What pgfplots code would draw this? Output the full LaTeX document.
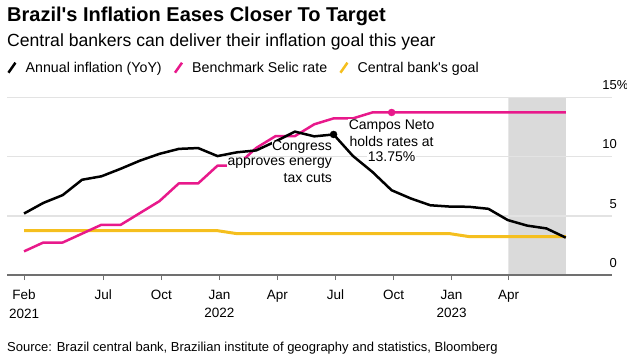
\documentclass[border=0pt]{standalone}
\usepackage{fontspec}
\setmainfont{Liberation Sans}[Ligatures=TeXOff]
\usepackage{pgfplots}
\usepackage{pgfplotstable}
\pgfplotsset{compat=1.18}
\definecolor{selic}{HTML}{E8198B}
\definecolor{goal}{HTML}{F5BF1E}
\definecolor{gridc}{HTML}{E3E3E3}
\definecolor{shade}{HTML}{DADADA}
\definecolor{axisc}{HTML}{707070}
\pgfplotstableread{
idx infl selic goal
2 5.20 2.00 3.75
3 6.10 2.75 3.75
4 6.76 2.75 3.75
5 8.06 3.50 3.75
6 8.35 4.25 3.75
7 8.99 4.25 3.75
8 9.68 5.25 3.75
9 10.25 6.25 3.75
10 10.67 7.75 3.75
11 10.74 7.75 3.75
12 10.06 9.25 3.75
13 10.38 9.25 3.50
14 10.54 10.75 3.50
15 11.30 11.75 3.50
16 12.13 11.75 3.50
17 11.73 12.75 3.50
18 11.89 13.25 3.50
19 10.07 13.25 3.50
20 8.73 13.75 3.50
21 7.17 13.75 3.50
22 6.47 13.75 3.50
23 5.90 13.75 3.50
24 5.79 13.75 3.50
25 5.77 13.75 3.25
26 5.60 13.75 3.25
27 4.65 13.75 3.25
28 4.18 13.75 3.25
29 3.94 13.75 3.25
30 3.16 13.75 3.25
}\datatable
\begin{document}
\begin{tikzpicture}[x=1pt,y=1pt]
\path (0,0) rectangle (627,-357);
\node[anchor=base west, inner sep=0, font=\fontsize{20}{22}\selectfont\bfseries] at (7,-21.7) {Brazil's Inflation Eases Closer To Target};
\node[anchor=base west, inner sep=0, font=\fontsize{17.6}{20}\selectfont] at (7,-46.7) {Central bankers can deliver their inflation goal this year};
\node[anchor=base west, inner sep=0, font=\fontsize{13}{15}\selectfont] at (7,-351) {Source: Brazil central bank, Brazilian institute of geography and statistics, Bloomberg};
\begin{axis}[
  set layers,
  at={(7pt,-275pt)}, anchor=south west,
  scale only axis, width=605pt, height=177.3pt,
  xmin=1.12, xmax=32.39, ymin=0, ymax=15,
  axis x line*=bottom, axis y line*=right,
  x axis line style={draw=axisc, line width=1.5pt, -},
  y axis line style={draw=none},
  xtick={2,6.1,9.1,12.1,15.1,18.1,21.1,24.1,27.05},
  xticklabels={{Feb\\2021},Jul,Oct,{Jan\\2022},Apr,Jul,Oct,{Jan\\2023},Apr},
  tick align=outside,
  major tick length=5pt,
  xtick style={draw=axisc, line width=1pt},
  ytick style={draw=none},
  xticklabel style={align=center, anchor=north, inner sep=0pt, yshift=-10pt, font=\fontsize{13.5}{18.4}\selectfont},
  ytick={0,5,10,15},
  yticklabels={0,5,10,15\rlap{\%}},
  yticklabel style={anchor=south east, inner sep=0pt, xshift=0pt, yshift=7.5pt, font=\fontsize{13}{15}\selectfont},
  ymajorgrids,
  grid style={draw=gridc, line width=1.3pt},
  legend image code/.code={\draw[#1, line width=2.5pt] (0pt,-5pt) -- (7pt,5pt);},
  legend columns=3,
  legend style={draw=none, fill=none, inner sep=0pt, at={(rel axis cs:0,1)}, anchor=west, yshift=30pt,
    font=\fontsize{14.2}{16}\selectfont,
    nodes={inner sep=0pt},
    /tikz/every odd column/.style={column sep=9pt},
    /tikz/every even column/.style={column sep=12pt}},
  clip=false,
]
\addlegendimage{black}\addlegendentry{Annual inflation (YoY)}
\addlegendimage{selic}\addlegendentry{Benchmark Selic rate}
\addlegendimage{goal}\addlegendentry{Central bank's goal}
\addplot[forget plot, draw=none, fill=shade, on layer=axis background] coordinates {(27.03,0) (30,0) (30,15) (27.03,15) (27.03,0)};
\addplot[forget plot, goal, line width=3pt, line join=round] table[x=idx, y=goal] {\datatable};
\addplot[forget plot, selic, line width=2.5pt, line join=round] table[x=idx, y=selic] {\datatable};
\addplot[forget plot, black, line width=2.5pt, line join=round] table[x=idx, y=infl] {\datatable};
\addplot[forget plot, only marks, mark=*, mark size=3.5pt, selic] coordinates {(21,13.75)};
\addplot[forget plot, only marks, mark=*, mark size=3.5pt, black] coordinates {(18,11.89)};
\node[anchor=east, fill=white, inner sep=0.5pt, font=\fontsize{14}{16}\selectfont] at (axis cs:17.95,10.8) {Congress};
\node[anchor=east, fill=white, inner sep=0.5pt, font=\fontsize{14}{16}\selectfont] at (axis cs:17.95,9.45) {approves energy};
\node[anchor=east, fill=white, inner sep=0.5pt, font=\fontsize{14}{16}\selectfont] at (axis cs:17.95,8.18) {tax cuts};
\node[fill=white, inner sep=0.5pt, font=\fontsize{14}{16}\selectfont] at (axis cs:21,12.58) {Campos Neto};
\node[fill=white, inner sep=0.5pt, font=\fontsize{14}{16}\selectfont] at (axis cs:21,11.29) {holds rates at};
\node[fill=white, inner sep=0.5pt, font=\fontsize{14}{16}\selectfont] at (axis cs:21,10.0) {13.75\%};
\end{axis}
\end{tikzpicture}
\end{document}
